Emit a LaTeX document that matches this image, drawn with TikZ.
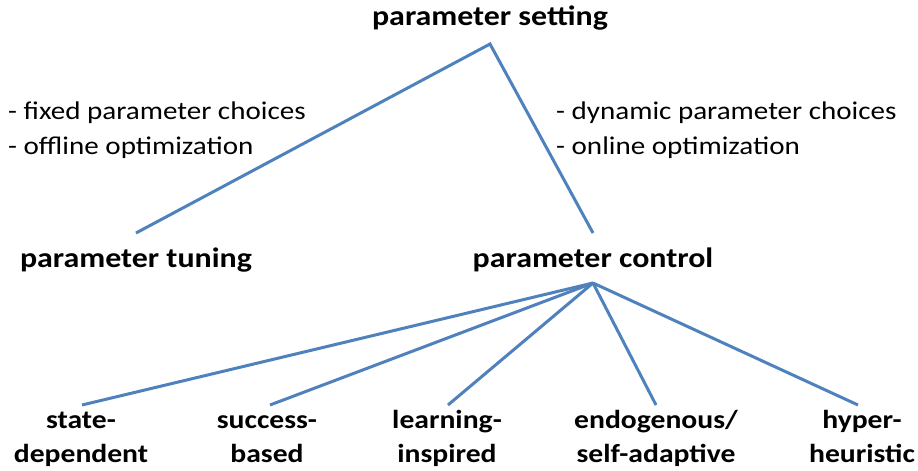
\documentclass[tikz,border=0pt]{standalone}
\usepackage{fontspec}
\setmainfont{Carlito}[FakeStretch=1.14]
\definecolor{lineblue}{RGB}{79,129,189}
\tikzset{
  head/.style={font=\fontsize{28}{34}\selectfont\bfseries, inner sep=0pt, anchor=base},
  leaf/.style={font=\fontsize{26}{34}\selectfont\bfseries, inner sep=0pt, anchor=base, align=center},
  note/.style={font=\fontsize{25.5}{35}\selectfont, inner sep=0pt, anchor=base west, align=left},
  conn/.style={draw=lineblue, line width=3pt}
}
\begin{document}
\begin{tikzpicture}[x=1pt,y=-1pt]
\useasboundingbox (0,0) rectangle (918,471);
\node[head] (ps) at (490,25) {parameter setting};
\node[head] (pt) at (136,267) {parameter tuning};
\node[head] (pc) at (593,267) {parameter control};
\node[note] (nl) at (8,154) {- fixed parameter choices\\- offline optimization};
\node[note] (nr) at (556,154) {- dynamic parameter choices\\- online optimization};
\node[leaf] (sd) at (81,462) {state-\\dependent};
\node[leaf] (sb) at (267,462) {success-\\based};
\node[leaf] (li) at (447,462) {learning-\\inspired};
\node[leaf] (en) at (656,462) {endogenous/\\self-adaptive};
\node[leaf] (hh) at (862,462) {hyper-\\heuristic};
\coordinate (apex) at ([yshift=-19pt]ps.base);
\coordinate (apex2) at ([yshift=-16pt]pc.base);
\draw[conn] ([yshift=34pt]pt.base) -- (apex) -- ([yshift=34pt]pc.base);
\foreach \n/\dx in {sd/1,sb/3,li/1,en/0,hh/-4}
  \draw[conn] (apex2) -- ([xshift=\dx pt,yshift=57pt]\n.base);
\end{tikzpicture}
\end{document}
